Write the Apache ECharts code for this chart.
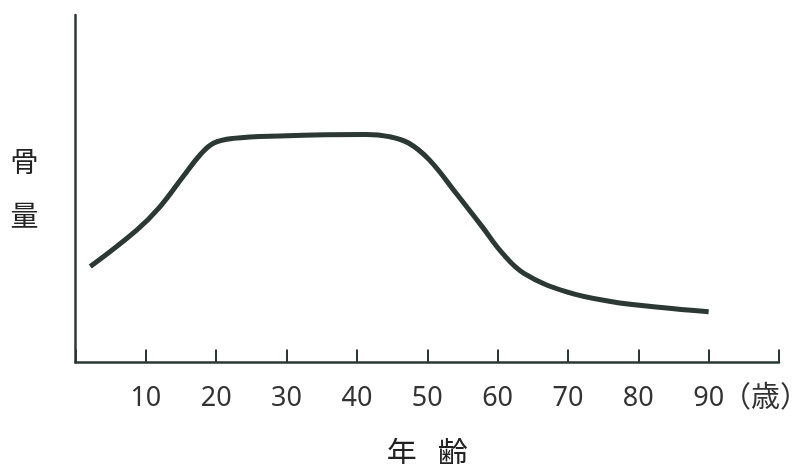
<!DOCTYPE html>
<html>
<head>
<meta charset="utf-8">
<script src="https://cdn.jsdelivr.net/npm/echarts@6/dist/echarts.min.js"></script>
<style>
html,body{margin:0;padding:0;background:#fff;}
#c{width:801px;height:464px;}
</style>
</head>
<body>
<div id="c"></div>
<script>
// data
const ages = [2.1, 8.7, 12.0, 15.3, 17.7, 19.6, 22.4, 29.0, 41.3, 44.6, 47.4, 50.3, 54.1, 57.8, 60.7, 63.8, 69.7, 76.3, 82.9, 90.0];
const boneMass = [27.6, 38.1, 44.8, 53.5, 59.7, 63.1, 64.5, 65.2, 65.6, 65.0, 63.1, 58.3, 48.7, 39.1, 31.4, 25.6, 20.4, 17.5, 15.9, 14.6];
const xTicks = [10, 20, 30, 40, 50, 60, 70, 80, 90];
const xName = '年\u2002\u2009齢';
const yName = '骨\n\n量';
const unitLabel = '（歳）';

const chart = echarts.init(document.getElementById('c'));
const ink = '#2b3834';
const font = '"Noto Sans CJK JP", "Noto Sans", sans-serif';
chart.setOption({
  animation: false,
  grid: {left: 75.5, right: 22, top: 15, bottom: 101.5, containLabel: false, outerBoundsMode: 'none'},
  xAxis: {
    type: 'value', min: 0, max: 100, interval: 10,
    axisLine: {show: true, lineStyle: {color: ink, width: 2.5}},
    axisTick: {show: true, inside: true, length: 13, lineStyle: {color: ink, width: 2}},
    splitLine: {show: false},
    axisLabel: {
      color: '#333', fontSize: 27, fontFamily: '"Noto Sans", sans-serif', margin: 22,
      formatter: v => xTicks.includes(v) ? String(v) : ''
    },
    name: xName, nameLocation: 'middle', nameGap: 74,
    nameTextStyle: {color: '#222', fontSize: 30, fontFamily: font}
  },
  yAxis: {
    type: 'value', min: 0, max: 100,
    axisLine: {show: true, lineStyle: {color: ink, width: 2.5}},
    axisTick: {show: false}, axisLabel: {show: false}, splitLine: {show: false},
    name: yName, nameLocation: 'middle', nameRotate: 0, nameGap: 37,
    nameTextStyle: {color: '#222', fontSize: 28, lineHeight: 27, fontFamily: font}
  },
  graphic: [{
    type: 'text', left: 722, top: 381,
    style: {text: unitLabel, fill: '#333', font: '29px ' + font}
  }],
  series: [{
    type: 'line', smooth: 0.4, showSymbol: false,
    data: ages.map((a, i) => [a, boneMass[i]]),
    lineStyle: {color: ink, width: 5}
  }]
});
</script>
</body>
</html>
